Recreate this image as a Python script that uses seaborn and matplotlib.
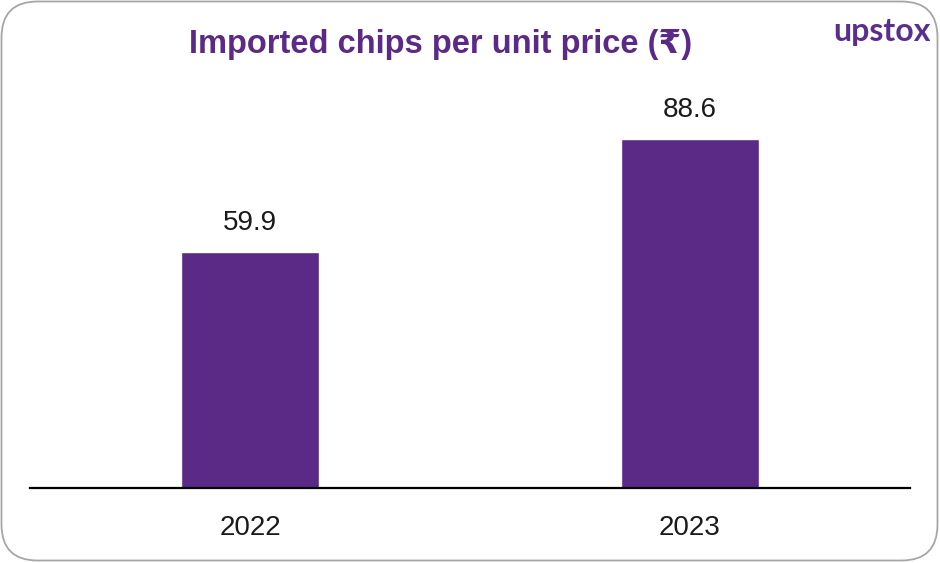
import matplotlib
matplotlib.use("Agg")
import matplotlib.pyplot as plt
import seaborn as sns
import pandas as pd
from matplotlib.patches import FancyBboxPatch

years = ["2022", "2023"]
prices = [59.9, 88.6]
value_labels = ["59.9", "88.6"]
title = "Imported chips per unit price (\u20b9)"
brand = "upstox"

PURPLE = "#5B2A86"

sns.set_theme(style="white")
plt.rcParams["font.family"] = ["Liberation Sans", "DejaVu Sans"]

fig = plt.figure(figsize=(9.4, 5.63), dpi=100)

# background frame
bg = fig.add_axes([0, 0, 1, 1], zorder=-1)
bg.set_xlim(0, 940)
bg.set_ylim(563, 0)
bg.axis("off")
frame = FancyBboxPatch((1.5, 1.5), 936, 559, boxstyle="round,pad=0,rounding_size=36",
                       facecolor="white", edgecolor="#A6A6A6", linewidth=1.3)
bg.add_patch(frame)

ax = fig.add_axes([30 / 940, 75 / 563, 880 / 940, (488 - 59) / 563])
df = pd.DataFrame({"year": years, "price": prices})
sns.barplot(data=df, x="year", y="price", color=PURPLE, width=0.315, saturation=1,
            ax=ax, errorbar=None)
ax.set_xlim(-0.5, 1.5)
ax.set_ylim(0, 108.8)
ax.patch.set_alpha(0)
for s in ["top", "right", "left"]:
    ax.spines[s].set_visible(False)
ax.spines["bottom"].set_color("black")
ax.spines["bottom"].set_linewidth(1.6)
ax.set_yticks([])
ax.set_xlabel("")
ax.set_ylabel("")
ax.tick_params(axis="x", length=0, pad=19.5, labelsize=20, labelcolor="#1a1a1a")

for bar, lab in zip(ax.patches, value_labels):
    ax.annotate(lab, (bar.get_x() + bar.get_width() / 2, bar.get_height()),
                xytext=(0, 15.8), textcoords="offset points", ha="center",
                va="baseline", fontsize=20, color="#1a1a1a")

fig.text(441 / 940, 1 - 44 / 563, title, ha="center", va="center",
         fontsize=23.5, fontweight="bold", color=PURPLE)
fig.text(931 / 940, 1 - 31 / 563, brand, ha="right", va="center",
         fontsize=23, fontweight="bold", color="#5A2D91", family=["Lato", "DejaVu Sans"])

fig.savefig("out.png", dpi=100)
